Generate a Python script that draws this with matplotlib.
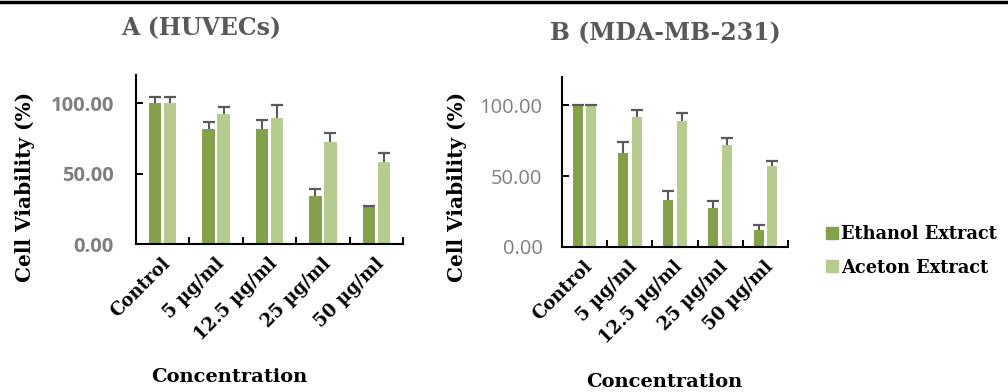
import matplotlib.pyplot as plt
import numpy as np
from matplotlib.lines import Line2D

# Data
categories = ['Control', '5 µg/ml', '12.5 µg/ml', '25 µg/ml', '50 µg/ml']

huvec_ethanol = [100.0, 81.8, 81.8, 33.9, 26.5]
huvec_ethanol_err = [4.3, 4.7, 6.4, 5.0, 0.5]
huvec_aceton = [100.0, 92.5, 89.6, 72.3, 58.4]
huvec_aceton_err = [4.3, 5.0, 9.3, 6.4, 6.0]

mda_ethanol = [100.0, 66.5, 33.0, 27.6, 11.8]
mda_ethanol_err = [0.5, 7.5, 6.6, 5.2, 3.5]
mda_aceton = [100.0, 91.7, 88.9, 71.7, 57.1]
mda_aceton_err = [0.5, 4.8, 5.9, 5.0, 3.5]

dark = '#82a14a'
light = '#b5cc8e'
serif = 'DejaVu Serif'

W, H = 1008, 392
fig = plt.figure(figsize=(W / 100, H / 100), dpi=100)


def px_axes(left, top, right, bottom):
    return fig.add_axes([left / W, 1 - bottom / H, (right - left) / W, (bottom - top) / H])


def up_err(ax, x, y, err):
    # one-sided error bars: stem + top cap only
    y = np.asarray(y)
    top = y + np.asarray(err)
    ax.vlines(x, y, top, color='#595959', linewidth=1.5, zorder=3)
    ax.plot(x, top, linestyle='none', marker='_', markersize=9, mew=1.6,
            color='#595959', zorder=3)


def draw_panel(ax, eth, eth_err, ace, ace_err, width, offs, tick_weight, pad):
    x = np.arange(len(categories))
    ax.bar(x - offs, eth, width, color=dark, zorder=2)
    ax.bar(x + offs, ace, width, color=light, zorder=2)
    up_err(ax, x - offs, eth, eth_err)
    up_err(ax, x + offs, ace, ace_err)
    ax.set_xlim(-0.5, 4.5)
    ax.set_ylim(0, 120)
    ax.set_yticks([0, 50, 100])
    ax.set_yticklabels(['0.00', '50.00', '100.00'], fontsize=14.5, color='#7f7f7f',
                       fontweight=tick_weight, family='Open Sans')
    ax.set_xticks(np.arange(0.5, 5, 1))
    ax.set_xticklabels([])
    ax.tick_params(axis='x', direction='in', length=5, width=1.4)
    ax.tick_params(axis='y', direction='in', length=5, width=1.4, pad=pad)
    for s in ['top', 'right']:
        ax.spines[s].set_visible(False)
    for s in ['left', 'bottom']:
        ax.spines[s].set_linewidth(1.5)
    for i, c in enumerate(categories):
        ax.annotate(c, xy=(i + 0.1, 0), xycoords=('data', 'axes fraction'),
                    xytext=(0, -12), textcoords='offset points', rotation=45,
                    rotation_mode='anchor', ha='right', va='center',
                    fontsize=13, fontweight='bold', family=serif)


axA = px_axes(136, 75, 403, 244)
draw_panel(axA, huvec_ethanol, huvec_ethanol_err, huvec_aceton, huvec_aceton_err,
           0.235, 0.14, 'bold', 16)
axB = px_axes(562, 77, 788, 247)
draw_panel(axB, mda_ethanol, mda_ethanol_err, mda_aceton, mda_aceton_err,
           0.22, 0.15, 'normal', 14)

fig.text(201 / W, 1 - 28 / H, 'A (HUVECs)', ha='center', va='center', fontsize=17,
         fontweight='bold', color='#595959', family=serif)
fig.text(665 / W, 1 - 33 / H, 'B (MDA-MB-231)', ha='center', va='center', fontsize=17,
         fontweight='bold', color='#595959', family=serif)

for xp, yp in [(25, 187), (457, 187)]:
    fig.text(xp / W, 1 - yp / H, 'Cell Viability (%)', rotation=90, ha='center', va='center',
             fontsize=14.5, fontweight='bold', family=serif)
for xp, yp in [(229, 377), (664, 382)]:
    fig.text(xp / W, 1 - yp / H, 'Concentration', ha='center', va='center',
             fontsize=14, fontweight='bold', family=serif)

handles = [Line2D([], [], marker='s', linestyle='none', markersize=8, color=dark),
           Line2D([], [], marker='s', linestyle='none', markersize=8, color=light)]
fig.legend(handles, ['Ethanol Extract', 'Aceton Extract'], loc='center left',
           bbox_to_anchor=(826 / W, 1 - 251 / H), frameon=False, borderpad=0,
           borderaxespad=0, handletextpad=0.15, handlelength=0.7, labelspacing=0.85,
           prop=dict(family=serif, weight='bold', size=12.8))

fig.add_artist(Line2D([0, 1], [1 - 1.5 / H, 1 - 1.5 / H], color='black', linewidth=2.5))

fig.savefig('out.png', dpi=100)
